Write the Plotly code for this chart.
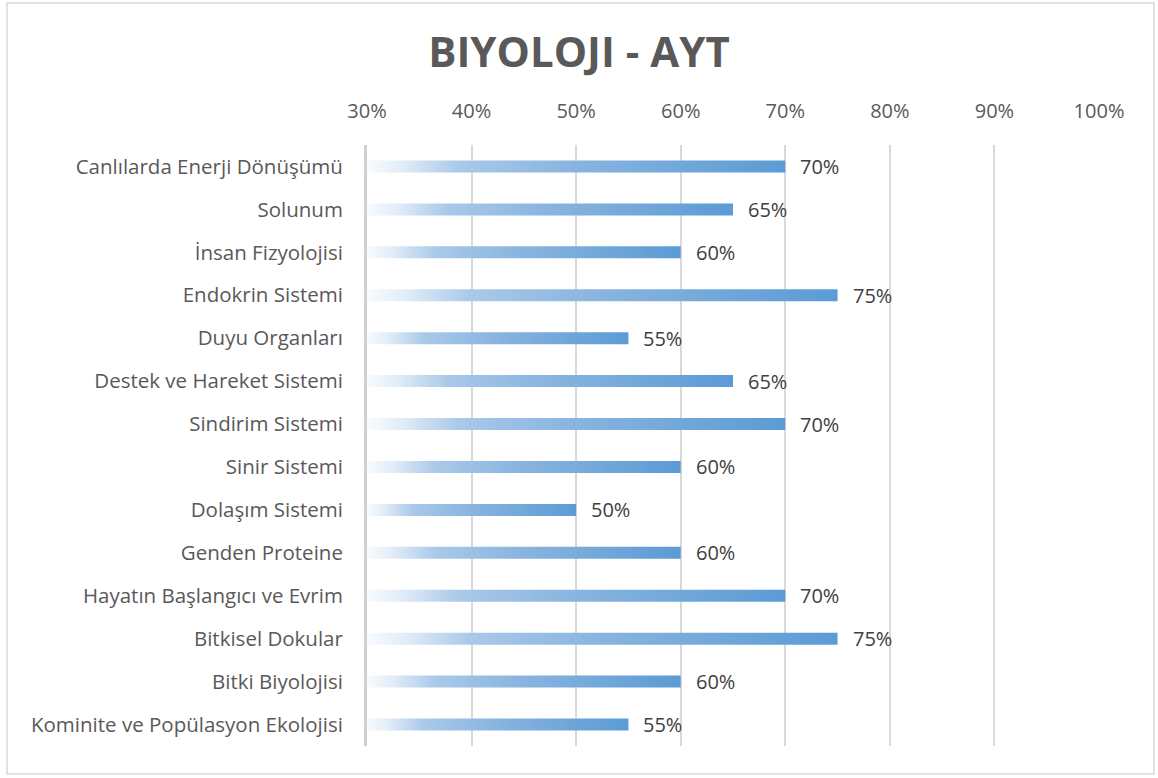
import plotly.graph_objects as go

categories = [
    "Canlılarda Enerji Dönüşümü",
    "Solunum",
    "İnsan Fizyolojisi",
    "Endokrin Sistemi",
    "Duyu Organları",
    "Destek ve Hareket Sistemi",
    "Sindirim Sistemi",
    "Sinir Sistemi",
    "Dolaşım Sistemi",
    "Genden Proteine",
    "Hayatın Başlangıcı ve Evrim",
    "Bitkisel Dokular",
    "Bitki Biyolojisi",
    "Kominite ve Popülasyon Ekolojisi",
]
values = [70, 65, 60, 75, 55, 65, 70, 60, 50, 60, 70, 75, 60, 55]

axis_min = 30
axis_max = 100
half = 0.14  # half bar thickness in category units

grad = [[0.0, "#f8fbfe"], [0.08, "#e2edf8"], [0.22, "#a9c9e9"], [0.5, "#88b4df"], [1.0, "#5b9bd5"]]

fig = go.Figure()
for i, (c, v) in enumerate(zip(categories, values)):
    fig.add_trace(go.Scatter(
        x=[axis_min, v, v, axis_min, axis_min],
        y=[i - half, i - half, i + half, i + half, i - half],
        mode="lines",
        line=dict(width=0, color="rgba(0,0,0,0)"),
        fill="toself",
        fillgradient=dict(type="horizontal", colorscale=grad, start=axis_min, stop=v),
        hoverinfo="skip",
        showlegend=False,
    ))
    fig.add_annotation(
        x=v, y=i, text=f"{v}%", showarrow=False,
        xanchor="left", yanchor="middle", xshift=13,
        font=dict(family="Open Sans", size=20, color="#404040"),
    )

W, H = 1158, 778
ml, mr, mt, mb = 367, 59, 145, 32
pw = W - ml - mr
ph = H - mt - mb

fig.add_shape(
    type="rect", xref="paper", yref="paper",
    x0=(7 - ml) / pw, x1=(1154 - ml) / pw,
    y0=-(774 - mt - ph) / ph, y1=1 + (mt - 3) / ph,
    line=dict(color="#d9d9d9", width=1.5), fillcolor="rgba(0,0,0,0)", layer="below",
)

fig.update_layout(
    width=W, height=H,
    margin=dict(l=ml, r=mr, t=mt, b=mb, pad=0),
    paper_bgcolor="white", plot_bgcolor="white",
    title=dict(
        text="<b>BIYOLOJI - AYT</b>", x=0.5, xref="container", xanchor="center",
        y=1 - 52 / H, yref="container", yanchor="middle",
        font=dict(family="Open Sans", size=42, color="#595959"),
    ),
    xaxis=dict(
        range=[axis_min, axis_max], dtick=10, tick0=axis_min, ticksuffix="%",
        side="top", showgrid=True, gridcolor="#d9d9d9", gridwidth=2,
        zeroline=False, showline=False, ticks="",
        ticklabelstandoff=22,
        tickfont=dict(family="Open Sans", size=20, color="#595959"),
        fixedrange=True,
    ),
    yaxis=dict(
        range=[len(categories) - 0.5, -0.5],
        tickmode="array", tickvals=list(range(len(categories))), ticktext=categories,
        showgrid=False, zeroline=False,
        showline=True, linecolor="#d0d0d0", linewidth=3, ticks="",
        ticklabelstandoff=17,
        tickfont=dict(family="Open Sans", size=20.5, color="#595959"),
        fixedrange=True,
    ),
)

fig.write_html(
    "out.html",
    config={"displayModeBar": False},
    post_script="document.body.style.margin='0';document.body.style.overflow='hidden';",
)
